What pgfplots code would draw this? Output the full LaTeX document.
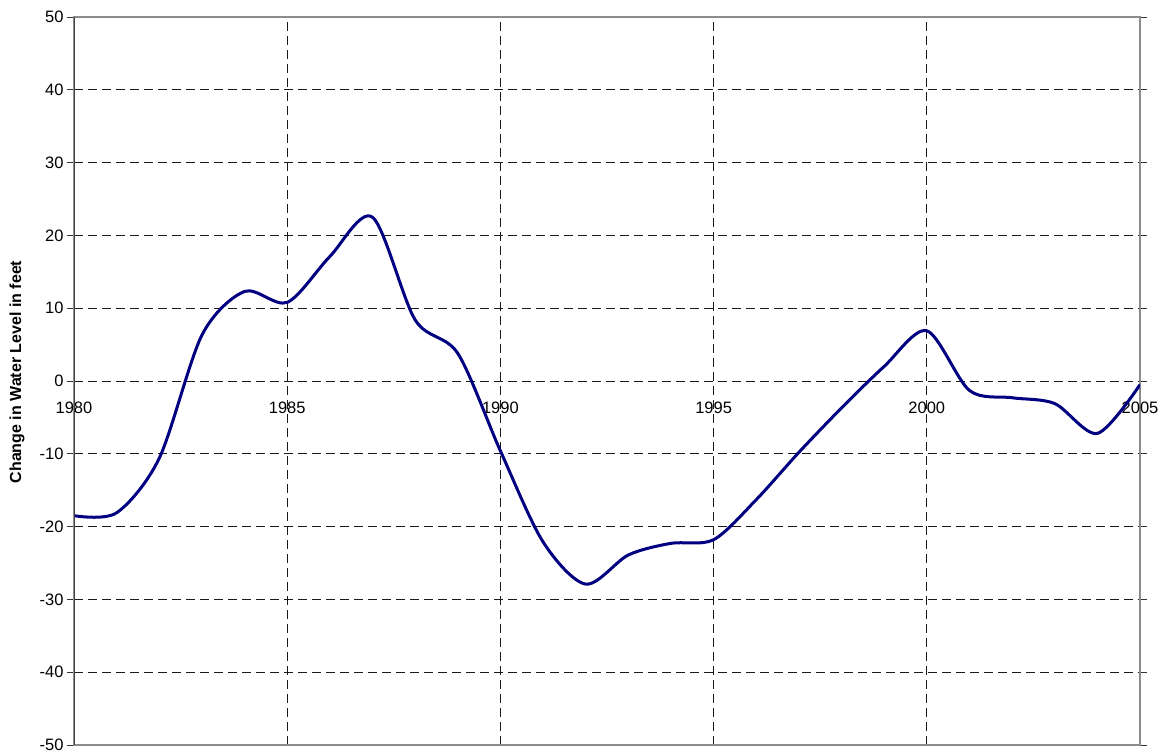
\documentclass[border=0pt]{standalone}
\usepackage{fontspec}
\setmainfont{Liberation Sans}
\usepackage{pgfplots}
\pgfplotsset{compat=1.18}
\begin{document}
\begin{tikzpicture}
\path[use as bounding box] (0,0) rectangle (1165bp,754bp);
\begin{axis}[
  at={(74bp,9bp)}, anchor=south west,
  scale only axis, width=1066bp, height=728bp,
  xmin=1980, xmax=2005, ymin=-50, ymax=50,
  xtick={1980,1985,...,2005}, ytick={-50,-40,...,50},
  /pgf/number format/assume math mode=true,
  x tick label style={/pgf/number format/1000 sep={}},
  tick label style={font=\fontsize{16.5bp}{19bp}\selectfont},
  grid=major,
  major grid style={black!90, line width=0.9bp, dash pattern=on 9bp off 5bp},
  axis line style={draw=gray!90, line width=1.3bp},
  tick align=outside, major tick length=7bp,
  ytick style={black!80, line width=0.9bp},
  xtick style={draw=none},
  xticklabel style={yshift=354bp},
  ylabel={Change in Water Level in feet},
  ylabel style={font=\bfseries\fontsize{16bp}{19bp}\selectfont, at={(axis description cs:-0.0535,0.5124)}, anchor=center},
]
\addplot[color={rgb,255:red,0;green,0;blue,128}, line width=3bp, smooth] coordinates {
(1980,-18.5) (1981,-18.1) (1982,-10.6) (1983,6.3) (1984,12.3) (1985,10.8)
(1986,17.1) (1987,22.5) (1988,8.4) (1989,3.8) (1990,-9.6) (1991,-22.1)
(1992,-27.9) (1993,-23.9) (1994,-22.3) (1995,-21.8) (1996,-16.3) (1997,-9.8)
(1998,-3.7) (1999,2.0) (2000,6.9) (2001,-1.3) (2002,-2.3) (2003,-3.1)
(2004,-7.2) (2005,-0.5)
};
\draw[black!75, line width=1.4bp] (rel axis cs:0,0) -- (rel axis cs:0,1);
\end{axis}
\end{tikzpicture}
\end{document}
